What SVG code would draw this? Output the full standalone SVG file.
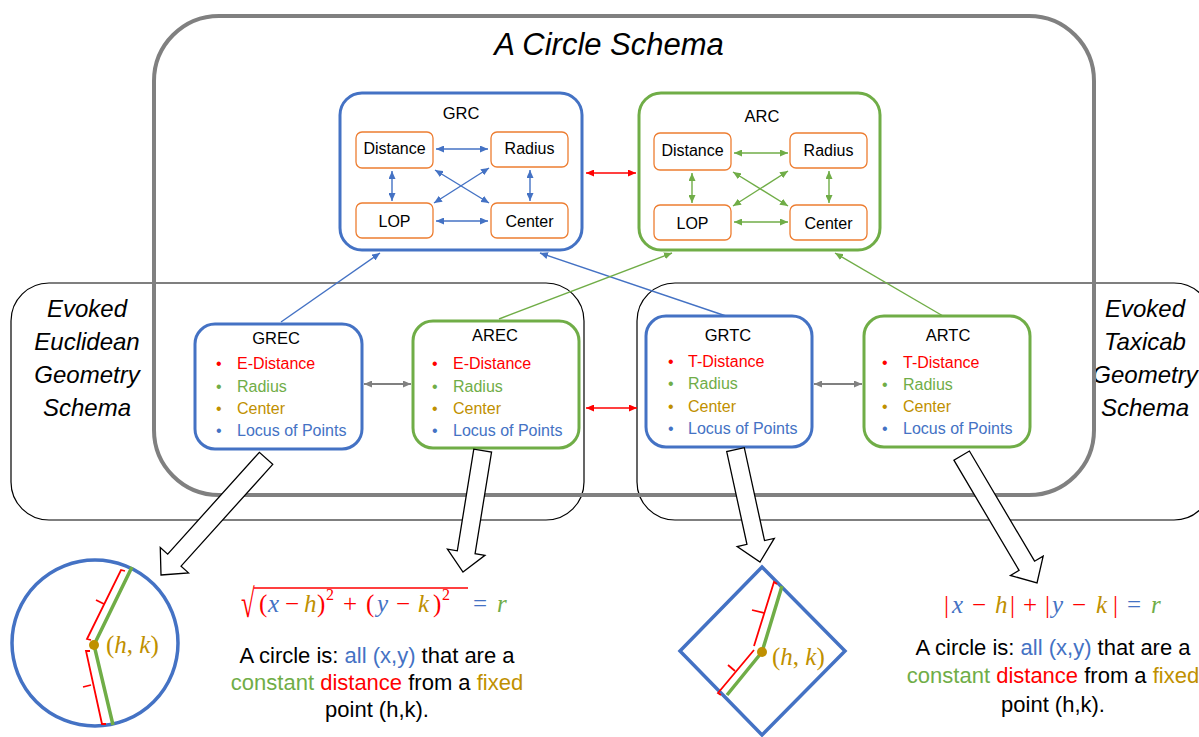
<svg xmlns="http://www.w3.org/2000/svg" width="1199" height="737" viewBox="0 0 1199 737">
<defs>
<marker id="mb" viewBox="0 0 8 7" refX="8" refY="3.5" markerWidth="8" markerHeight="7" markerUnits="userSpaceOnUse" orient="auto-start-reverse"><path d="M0,0 L8,3.5 L0,7 z" fill="#4472c4"/></marker>
<marker id="mg" viewBox="0 0 8 7" refX="8" refY="3.5" markerWidth="8" markerHeight="7" markerUnits="userSpaceOnUse" orient="auto-start-reverse"><path d="M0,0 L8,3.5 L0,7 z" fill="#70ad47"/></marker>
<marker id="mr" viewBox="0 0 8 7" refX="8" refY="3.5" markerWidth="8" markerHeight="7" markerUnits="userSpaceOnUse" orient="auto-start-reverse"><path d="M0,0 L8,3.5 L0,7 z" fill="#ff0000"/></marker>
<marker id="mk" viewBox="0 0 8 7" refX="8" refY="3.5" markerWidth="8" markerHeight="7" markerUnits="userSpaceOnUse" orient="auto-start-reverse"><path d="M0,0 L8,3.5 L0,7 z" fill="#808080"/></marker>
</defs>
<style>
.t{font-family:"Liberation Sans",Arial,sans-serif}
.ttl{font-size:16.5px;fill:#000;text-anchor:middle}
.in{fill:#fff;stroke:#ed7d31;stroke-width:1.3}
.inl{font-size:16px;fill:#000;text-anchor:middle}
.bl{font-size:16px}
.R{fill:#ff0000}.G{fill:#70ad47}.Y{fill:#bf9000}.B{fill:#4472c4}
.nb{fill:#fff;stroke:#4472c4;stroke-width:3}
.ng{fill:#fff;stroke:#70ad47;stroke-width:3}
.ev{fill:none;stroke:#000;stroke-width:1.2}
.cb{stroke:#4472c4;stroke-width:1.4;fill:none}
.cg{stroke:#70ad47;stroke-width:1.4;fill:none}
.cr{stroke:#ff0000;stroke-width:1.5;fill:none}
.ck{stroke:#808080;stroke-width:1.8;fill:none}
.ba{fill:#fff;stroke:#000;stroke-width:1.3;stroke-linejoin:miter}
.ev-t{font-size:24px;font-style:italic;fill:#000;text-anchor:middle}
.p{font-size:22px;fill:#000;text-anchor:middle}
.m{font-family:"Liberation Serif","Times New Roman",serif;font-size:25px}
.i{font-style:italic}
</style>

<g id="evoked-euclidean">
<rect class="ev" x="11" y="283" width="573" height="237" rx="38"/>
<text class="t ev-t" x="87" y="317">Evoked</text>
<text class="t ev-t" x="87" y="350">Euclidean</text>
<text class="t ev-t" x="87" y="383">Geometry</text>
<text class="t ev-t" x="87" y="416">Schema</text>
</g>
<g id="evoked-taxicab">
<rect class="ev" x="637" y="283" width="575" height="237" rx="38"/>
<text class="t ev-t" x="1145" y="317">Evoked</text>
<text class="t ev-t" x="1145" y="350">Taxicab</text>
<text class="t ev-t" x="1145" y="383">Geometry</text>
<text class="t ev-t" x="1145" y="416">Schema</text>
</g>
<g id="circle-schema">
<rect x="154" y="16" width="940" height="479" rx="65" fill="none" stroke="#808080" stroke-width="4"/>
<text class="t" x="609" y="55" font-size="31" font-style="italic" text-anchor="middle" fill="#000">A Circle Schema</text>
</g>

<g id="connectors">
<line class="cb" x1="281" y1="322" x2="380" y2="253" stroke-width="1" marker-end="url(#mb)"/>
<line class="cb" x1="726" y1="316" x2="540" y2="253" stroke-width="1" marker-end="url(#mb)"/>
<line class="cg" x1="499" y1="319" x2="672" y2="253" stroke-width="1" marker-end="url(#mg)"/>
<line class="cg" x1="943" y1="316" x2="835" y2="253" stroke-width="1" marker-end="url(#mg)"/>
<line class="cr" x1="586" y1="173" x2="636" y2="173" marker-start="url(#mr)" marker-end="url(#mr)"/>
<line class="cr" x1="586" y1="408" x2="637" y2="408" marker-start="url(#mr)" marker-end="url(#mr)"/>
<line class="ck" x1="364" y1="384" x2="411" y2="384" marker-start="url(#mk)" marker-end="url(#mk)"/>
<line class="ck" x1="814" y1="384" x2="862" y2="384" marker-start="url(#mk)" marker-end="url(#mk)"/>
</g>

<g id="GRC">
<rect class="nb" x="340" y="93" width="242" height="157" rx="22"/>
<text class="t ttl" x="461" y="119">GRC</text>
<rect class="in" x="356" y="132" width="77" height="36" rx="6"/>
<text class="t inl" x="394.5" y="154">Distance</text>
<rect class="in" x="491" y="132" width="77" height="35" rx="6"/>
<text class="t inl" x="529.5" y="154">Radius</text>
<rect class="in" x="356" y="203" width="77" height="35" rx="6"/>
<text class="t inl" x="394.5" y="227">LOP</text>
<rect class="in" x="491" y="203" width="77" height="35" rx="6"/>
<text class="t inl" x="529.5" y="227">Center</text>
<g>
<line class="cb" x1="436" y1="149" x2="488" y2="149" marker-start="url(#mb)" marker-end="url(#mb)"/>
<line class="cb" x1="392" y1="171" x2="392" y2="201" marker-start="url(#mb)" marker-end="url(#mb)"/>
<line class="cb" x1="530" y1="170" x2="530" y2="201" marker-start="url(#mb)" marker-end="url(#mb)"/>
<line class="cb" x1="436" y1="221" x2="488" y2="221" marker-start="url(#mb)" marker-end="url(#mb)"/>
<line class="cb" x1="435" y1="170" x2="489" y2="203" marker-start="url(#mb)" marker-end="url(#mb)"/>
<line class="cb" x1="489" y1="168" x2="434" y2="203" marker-start="url(#mb)" marker-end="url(#mb)"/>
</g>
</g>

<g id="ARC">
<rect class="ng" x="639" y="93" width="241" height="157" rx="22"/>
<text class="t ttl" x="762" y="122">ARC</text>
<rect class="in" x="654" y="133" width="77" height="37" rx="6"/>
<text class="t inl" x="692.5" y="156">Distance</text>
<rect class="in" x="790" y="133" width="77" height="35" rx="6"/>
<text class="t inl" x="828.5" y="156">Radius</text>
<rect class="in" x="654" y="205" width="77" height="35" rx="6"/>
<text class="t inl" x="692.5" y="229">LOP</text>
<rect class="in" x="790" y="205" width="77" height="35" rx="6"/>
<text class="t inl" x="828.5" y="229">Center</text>
<g>
<line class="cg" x1="734" y1="153" x2="788" y2="153" marker-start="url(#mg)" marker-end="url(#mg)"/>
<line class="cg" x1="692" y1="173" x2="692" y2="203" marker-start="url(#mg)" marker-end="url(#mg)"/>
<line class="cg" x1="829" y1="171" x2="829" y2="203" marker-start="url(#mg)" marker-end="url(#mg)"/>
<line class="cg" x1="734" y1="222" x2="788" y2="222" marker-start="url(#mg)" marker-end="url(#mg)"/>
<line class="cg" x1="733" y1="172" x2="788" y2="206" marker-start="url(#mg)" marker-end="url(#mg)"/>
<line class="cg" x1="788" y1="171" x2="733" y2="206" marker-start="url(#mg)" marker-end="url(#mg)"/>
</g>
</g>

<g id="GREC">
<rect class="nb" x="195" y="324" width="167" height="125" rx="20"/>
<text class="t ttl" x="276" y="344">GREC</text>
<text class="t bl R" x="216" y="369">•</text><text class="t bl R" x="237" y="369">E-Distance</text>
<text class="t bl G" x="216" y="392">•</text><text class="t bl G" x="237" y="392">Radius</text>
<text class="t bl Y" x="216" y="414">•</text><text class="t bl Y" x="237" y="414">Center</text>
<text class="t bl B" x="216" y="436">•</text><text class="t bl B" x="237" y="436">Locus of Points</text>
</g>

<g id="AREC">
<rect class="ng" x="413" y="321" width="166" height="127" rx="20"/>
<text class="t ttl" x="495" y="341">AREC</text>
<text class="t bl R" x="432" y="369">•</text><text class="t bl R" x="453" y="369">E-Distance</text>
<text class="t bl G" x="432" y="392">•</text><text class="t bl G" x="453" y="392">Radius</text>
<text class="t bl Y" x="432" y="414">•</text><text class="t bl Y" x="453" y="414">Center</text>
<text class="t bl B" x="432" y="436">•</text><text class="t bl B" x="453" y="436">Locus of Points</text>
</g>

<g id="GRTC">
<rect class="nb" x="646" y="316" width="166" height="131" rx="20"/>
<text class="t ttl" x="728" y="341">GRTC</text>
<text class="t bl R" x="668" y="367">•</text><text class="t bl R" x="688" y="367">T-Distance</text>
<text class="t bl G" x="668" y="389">•</text><text class="t bl G" x="688" y="389">Radius</text>
<text class="t bl Y" x="668" y="412">•</text><text class="t bl Y" x="688" y="412">Center</text>
<text class="t bl B" x="668" y="434">•</text><text class="t bl B" x="688" y="434">Locus of Points</text>
</g>

<g id="ARTC">
<rect class="ng" x="864" y="316" width="166" height="131" rx="20"/>
<text class="t ttl" x="948" y="341">ARTC</text>
<text class="t bl R" x="882" y="368">•</text><text class="t bl R" x="903" y="368">T-Distance</text>
<text class="t bl G" x="882" y="390">•</text><text class="t bl G" x="903" y="390">Radius</text>
<text class="t bl Y" x="882" y="412">•</text><text class="t bl Y" x="903" y="412">Center</text>
<text class="t bl B" x="882" y="434">•</text><text class="t bl B" x="903" y="434">Locus of Points</text>
</g>

<g id="block-arrows">
<polygon class="ba" transform="translate(161,575) rotate(132)" points="0,0 -20,-19 -20,-9 -157,-9 -157,9 -20,9 -20,19"/>
<polygon class="ba" transform="translate(463,572) rotate(99.2)" points="0,0 -20,-19 -20,-9 -123,-9 -123,9 -20,9 -20,19"/>
<polygon class="ba" transform="translate(760,562) rotate(77.7)" points="0,0 -20,-19 -20,-9 -115,-9 -115,9 -20,9 -20,19"/>
<polygon class="ba" transform="translate(1037,583) rotate(59.4)" points="0,0 -20,-19 -20,-9 -148,-9 -148,9 -20,9 -20,19"/>
</g>

<g id="euclidean-circle">
<circle cx="95" cy="643" r="83" fill="none" stroke="#4472c4" stroke-width="3.5"/>
<polyline points="132,567 94,645 113,725" fill="none" stroke="#70ad47" stroke-width="3.5"/>
<g stroke="#ff0000" stroke-width="1.8" fill="none">
<polyline points="91,640 87,639 121,570 125,571"/>
<line x1="104" y1="604" x2="96" y2="600"/>
<polyline points="90,651 86,651 102,724 106,724"/>
<line x1="91" y1="685" x2="83" y2="687"/>
</g>
<circle cx="94" cy="645" r="5" fill="#bf9000"/>
<text class="m Y" x="106" y="653" font-size="23">(<tspan class="i">h</tspan>, <tspan class="i">k</tspan>)</text>
</g>

<g id="euclidean-formula">
<text class="m R" transform="translate(241,617) scale(1,1.6)" x="0" y="0" font-size="30">√</text>
<line x1="254" y1="588" x2="468" y2="588" stroke="#ff0000" stroke-width="1.6"/>
<text class="m" y="612">
<tspan class="R" x="259" y="612">(</tspan><tspan class="B i" x="268" y="612">x</tspan><tspan class="R" x="285" y="612">−</tspan><tspan class="Y i" x="304" y="612">h</tspan><tspan class="R" x="317" y="612">)</tspan><tspan class="R" x="326" y="600" font-size="16">2</tspan><tspan class="R" x="343" y="612">+</tspan><tspan class="R" x="366" y="612">(</tspan><tspan class="B i" x="377" y="612">y</tspan><tspan class="R" x="396" y="612">−</tspan><tspan class="Y i" x="418" y="612">k</tspan><tspan class="R" x="433" y="612">)</tspan><tspan class="R" x="442" y="600" font-size="16">2</tspan><tspan class="B" x="473" y="612">=</tspan><tspan class="G i" x="497" y="612">r</tspan>
</text>
<text class="t p" x="377" y="663">A circle is: <tspan class="B">all (x,y)</tspan> that are a</text>
<text class="t p" x="377" y="690"><tspan class="G">constant</tspan> <tspan class="R">distance</tspan> from a <tspan class="Y">fixed</tspan></text>
<text class="t p Y" x="377" y="717">point (h,k).</text>
</g>

<g id="taxicab-diamond">
<polygon points="762,567 845,651 762,735 680,651" fill="none" stroke="#4472c4" stroke-width="3.5"/>
<polyline points="782,586 762,652 727,695" fill="none" stroke="#70ad47" stroke-width="3.5"/>
<g stroke="#ff0000" stroke-width="1.8" fill="none">
<polyline points="777,584 774,582 754,646"/>
<line x1="764" y1="613" x2="752" y2="610"/>
<polyline points="754,650 718,693 721,695"/>
<line x1="735" y1="671" x2="728" y2="665"/>
</g>
<circle cx="762" cy="652" r="5" fill="#bf9000"/>
<text class="m Y" x="772" y="665" font-size="23">(<tspan class="i">h</tspan>, <tspan class="i">k</tspan>)</text>
</g>

<g id="taxicab-formula">
<text class="m" y="613">
<tspan class="R" x="944" y="613">|</tspan><tspan class="B i" x="952" y="613">x</tspan><tspan class="R" x="972" y="613">−</tspan><tspan class="Y i" x="995" y="613">h</tspan><tspan class="R" x="1010" y="613">|</tspan><tspan class="R" x="1023" y="613">+</tspan><tspan class="R" x="1045" y="613">|</tspan><tspan class="B i" x="1052" y="613">y</tspan><tspan class="R" x="1072" y="613">−</tspan><tspan class="Y i" x="1096" y="613">k</tspan><tspan class="R" x="1113" y="613">|</tspan><tspan class="B" x="1127" y="613">=</tspan><tspan class="G i" x="1151" y="613">r</tspan>
</text>
<text class="t p" x="1053" y="655">A circle is: <tspan class="B">all (x,y)</tspan> that are a</text>
<text class="t p" x="1053" y="683"><tspan class="G">constant</tspan> <tspan class="R">distance</tspan> from a <tspan class="Y">fixed</tspan></text>
<text class="t p Y" x="1053" y="712">point (h,k).</text>
</g>
</svg>
